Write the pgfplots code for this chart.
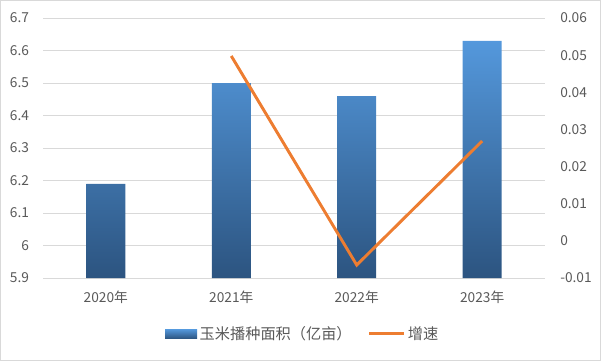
\documentclass[border=0pt]{standalone}
\usepackage{pgfplots}
\pgfplotsset{compat=1.18}
\usepackage{fontspec}
\setmainfont{Noto Sans CJK SC}
\definecolor{barTop}{RGB}{84,152,220}
\definecolor{barBot}{RGB}{44,84,128}
\definecolor{lineC}{RGB}{237,125,49}
\definecolor{gridC}{RGB}{217,217,217}
\definecolor{txtC}{RGB}{89,89,89}
\begin{document}
\begin{tikzpicture}[x=0.75pt,y=0.75pt]
\path[use as bounding box, draw=gridC, line width=0.75pt] (-42.6,-82.6) rectangle (557.6,277.6);
\pgfplotsset{
  common/.style={
    scale only axis, width=376.5pt, height=195pt,
    at={(0,0)}, anchor=south west,
    xmin=-0.5, xmax=3.5,
    axis line style={draw=none},
    major tick length=0pt,
    tick style={draw=none},
    scaled y ticks=false,
    /pgf/number format/assume math mode=true,
    ticklabel style={font=\fontsize{10.3}{12}\selectfont, text=txtC},
  }
}
\begin{axis}[common,
  ymin=5.9, ymax=6.7,
  ytick={5.9,6,6.1,6.2,6.3,6.4,6.5,6.6,6.7},
  yticklabels={5.9,6,6.1,6.2,6.3,6.4,6.5,6.6,6.7},
  yticklabel style={anchor=east, xshift=-7pt},
  ymajorgrids, grid style={gridC, line width=0.75pt},
  xtick={0,1,2,3},
  xticklabels={2020年,2021年,2022年,2023年},
  xticklabel style={yshift=-6pt},
  legend style={at={(0.518,-0.215)}, anchor=center, draw=none, fill=none,
    legend columns=2, font=\fontsize{11.4}{13}\selectfont, text=txtC,
    /tikz/every odd column/.append style={column sep=0pt},
    /tikz/every even column/.append style={column sep=10pt},
    legend cell align=left},
]
\addplot[ybar, bar width=29.25pt, draw=none, top color=barTop, bottom color=barBot,
  legend image code/.code={\fill[top color=barTop, bottom color=barBot] (0pt,-3.5pt) rectangle (24pt,3.5pt);}]
  coordinates {(0,6.19) (1,6.50) (2,6.46) (3,6.63)};
\addlegendentry{玉米播种面积（亿亩）}
\addlegendimage{lineC, line width=2.2pt, legend image code/.code={\draw[lineC, line width=2.2pt] (0pt,0pt) -- (26pt,0pt);}}
\addlegendentry{增速}
\end{axis}
\begin{axis}[common,
  ymin=-0.01, ymax=0.06,
  axis y line*=right,
  axis x line=none,
  ytick={-0.01,0,0.01,0.02,0.03,0.04,0.05,0.06},
  yticklabels={-0.01,0,0.01,0.02,0.03,0.04,0.05,0.06},
  yticklabel style={anchor=west, xshift=8pt},
]
\addplot[lineC, line width=2.2pt, mark=none] coordinates {(1,0.0498) (2,-0.0065) (3,0.0269)};
\end{axis}
\end{tikzpicture}
\end{document}
